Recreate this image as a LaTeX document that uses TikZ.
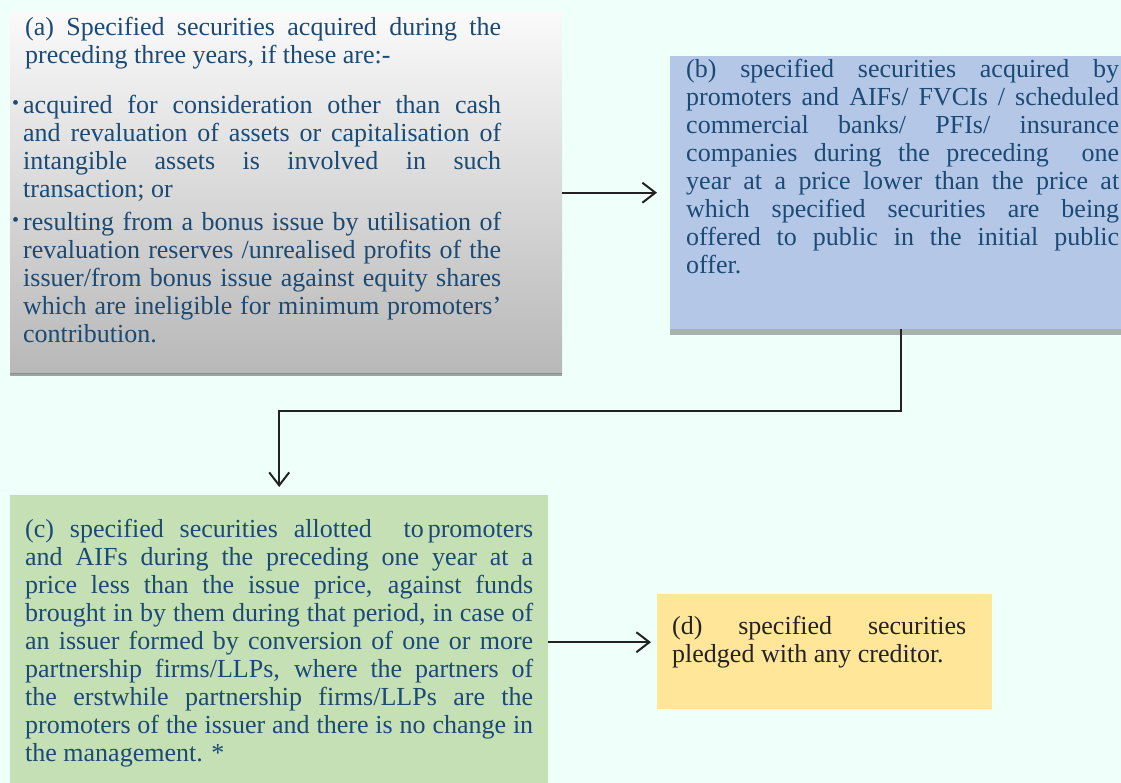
\documentclass[tikz,border=0pt]{standalone}
\usepackage{fontspec}
\setmainfont{Liberation Serif}
\usetikzlibrary{arrows.meta,shadows,calc}

\definecolor{pagebg}{HTML}{EFFFFA}
\definecolor{inkblue}{HTML}{1B4A75}
\definecolor{inkdark}{HTML}{222222}
\definecolor{fillb}{HTML}{B4C7E7}
\definecolor{fillc}{HTML}{C5E0B4}
\definecolor{filld}{HTML}{FFE699}
\definecolor{linegray}{HTML}{222222}

\newcommand{\itembullet}{\leavevmode\llap{\raisebox{4pt}{\fontsize{20}{20}\selectfont\textbullet}\hspace{4pt}}}

\tikzset{
  panel/.style={rectangle, inner sep=0pt, anchor=north west, draw=none},
  bodytext/.style={inner sep=0pt, anchor=base west, align=justify,
    font=\fontsize{26}{28}\selectfont, text=inkblue},
  conn/.style={draw=linegray, line width=2pt,
    -{Straight Barb[length=13pt,width=20pt,line width=2pt]}},
  softshadow/.style={drop shadow={shadow xshift=0pt, shadow yshift=-3pt,
    opacity=0.35, fill=black}},
  deepshadow/.style={drop shadow={shadow xshift=0pt, shadow yshift=-6pt,
    opacity=0.3, fill=black}}
}

\begin{document}
\begin{tikzpicture}[x=1pt,y=-1pt]
  % page
  \fill[pagebg] (0,0) rectangle (1121,783);
  \useasboundingbox (0,0) rectangle (1121,783);

  % boxes
  \node[panel, softshadow, top color=black!2, bottom color=black!28,
        minimum width=552pt, minimum height=361pt] (boxa) at (10,12) {};
  \draw[black!45, line width=1.2pt] (boxa.south west) -- (boxa.south east);
  \node[panel, fill=fillb, deepshadow,
        minimum width=462pt, minimum height=273pt] (boxb) at (670,56) {};
  \node[panel, fill=fillc,
        minimum width=538pt, minimum height=294pt] (boxc) at (10,495) {};
  \node[panel, fill=filld,
        minimum width=335pt, minimum height=115pt] (boxd) at (657,594) {};

  % texts
  \node[bodytext, text width=478pt] (texta) at (23,36) {%
    \leftskip=2pt\rightskip=0pt
    (a) Specified securities acquired during the\linebreak
    preceding three years, if these are:-\par
    \vspace{22pt}\leftskip=0pt
    \itembullet acquired for consideration other than cash\linebreak
    and revaluation of assets or capitalisation of\linebreak
    intangible assets is involved in such\linebreak
    transaction; or\par
    \vspace{5pt}
    \itembullet resulting from a bonus issue by utilisation of\linebreak
    revaluation reserves /unrealised profits of the\linebreak
    issuer/from bonus issue against equity shares\linebreak
    which are ineligible for minimum promoters'\linebreak
    contribution.\par};

  \node[bodytext, text width=433pt] (textb) at (686,78) {%
    (b) specified securities acquired by\linebreak
    promoters and AIFs/ FVCIs / scheduled\linebreak
    commercial banks/ PFIs/ insurance\linebreak
    companies during the preceding\ \ one\linebreak
    year at a price lower than the price at\linebreak
    which specified securities are being\linebreak
    offered to public in the initial public\linebreak
    offer.\par};

  \node[bodytext, text width=508pt] (textc) at (25,537) {%
    (c) specified securities allotted \ to\hspace{4pt}promoters\linebreak
    and AIFs during the preceding one year at a\linebreak
    price less than the issue price, against funds\linebreak
    brought in by them during that period, in case of\linebreak
    an issuer formed by conversion of one or more\linebreak
    partnership firms/LLPs, where the partners of\linebreak
    the erstwhile partnership firms/LLPs are the\linebreak
    promoters of the issuer and there is no change in\linebreak
    the management. *\par};

  \node[bodytext, text=inkdark, text width=294pt] (textd) at (672,634) {%
    (d) specified securities\linebreak
    pledged with any creditor.\par};

  % connectors
  \draw[conn, shorten >=13pt] (boxa.east) -- (boxb.west);
  \coordinate (turn) at (0,411);
  \draw[conn, shorten >=8pt] (boxb.south) -- (boxb.south |- turn) -| (boxc.north);
  \draw[conn, shorten >=6pt] (boxc.east) -- (boxc.east -| boxd.west);
\end{tikzpicture}
\end{document}
